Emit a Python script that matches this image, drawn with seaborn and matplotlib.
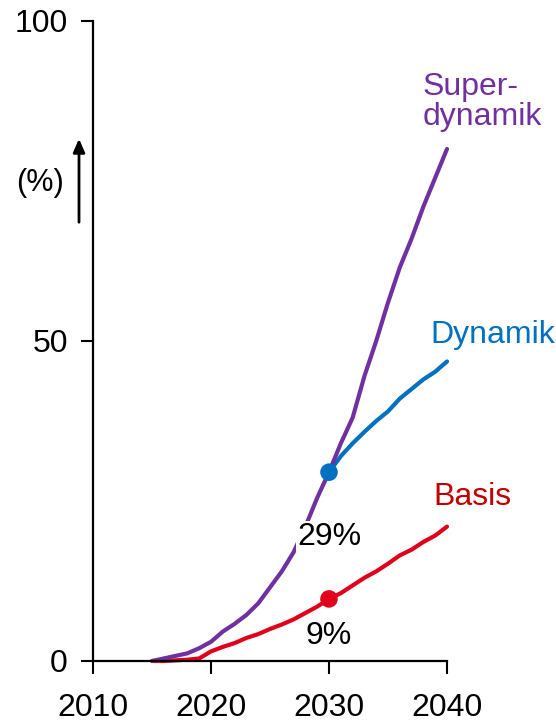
import numpy as np
import pandas as pd
import matplotlib
matplotlib.use("Agg")
import matplotlib.pyplot as plt
import seaborn as sns

# --- data (share in %) ---
years_super = list(range(2015, 2041))
super_dyn = [0.0, 0.4, 0.8, 1.2, 2.0, 3.0, 4.6, 5.8, 7.2, 9.0, 11.5, 14.0, 17.0,
             21.0, 25.5, 29.5, 34.0, 38.0, 44.5, 50.0, 56.0, 61.5, 66.0, 71.0,
             75.5, 80.0]

years_dyn = list(range(2030, 2041))
dynamik = [29.5, 32.0, 34.0, 35.8, 37.5, 39.0, 41.0, 42.5, 44.0, 45.2, 46.8]

years_basis = list(range(2015, 2041))
basis = [0.0, 0.0, 0.1, 0.2, 0.4, 1.5, 2.2, 2.8, 3.6, 4.2, 5.0, 5.7, 6.5, 7.5,
         8.5, 9.7, 10.6, 11.8, 13.0, 14.0, 15.2, 16.5, 17.4, 18.6, 19.6, 21.0]

marker_year = 2030
marker_vals = {"Dynamik": 29.5, "Basis": 9.7}

COLORS = {"Superdynamik": "#7030A0", "Dynamik": "#0070C0", "Basis": "#E0001B"}
TEXT_COLORS = {"Superdynamik": "#7030A0", "Dynamik": "#0070C0", "Basis": "#C00000"}

df = pd.concat([
    pd.DataFrame({"year": years_super, "value": super_dyn, "scenario": "Superdynamik"}),
    pd.DataFrame({"year": years_dyn, "value": dynamik, "scenario": "Dynamik"}),
    pd.DataFrame({"year": years_basis, "value": basis, "scenario": "Basis"}),
])

sns.set_style("white")
plt.rcParams["font.family"] = ["Liberation Sans", "DejaVu Sans"]
plt.rcParams["text.color"] = "black"

fig = plt.figure(figsize=(5.56, 7.23), dpi=100)
ax = fig.add_axes([93 / 556, 62 / 723, 354 / 556, 640 / 723])

sns.lineplot(data=df, x="year", y="value", hue="scenario", palette=COLORS,
             hue_order=["Basis", "Dynamik", "Superdynamik"],
             linewidth=3.0, legend=False, ax=ax, clip_on=False)

dots = pd.DataFrame({"year": [marker_year] * 2,
                     "value": [marker_vals["Dynamik"], marker_vals["Basis"]],
                     "scenario": ["Dynamik", "Basis"]})
sns.scatterplot(data=dots, x="year", y="value", hue="scenario", palette=COLORS,
                s=160, edgecolor="none", legend=False, ax=ax, zorder=5, clip_on=False)

ax.set_xlim(2010, 2040)
ax.set_ylim(0, 100)
ax.set_xticks([2010, 2020, 2030, 2040])
ax.set_yticks([0, 50, 100])
ax.set_xlabel("")
ax.set_ylabel("")
for side in ["top", "right"]:
    ax.spines[side].set_visible(False)
for side in ["left", "bottom"]:
    ax.spines[side].set_linewidth(1.6)
    ax.spines[side].set_color("black")
ax.tick_params(axis="both", which="both", direction="out", length=9, width=1.5,
               labelsize=23, colors="black", bottom=True, left=True)
ax.tick_params(axis="y", pad=9)
ax.tick_params(axis="x", pad=14)
ax.grid(False)

# value labels at 2030
ax.text(marker_year, 19.4, "29%", fontsize=23, ha="center", va="center",
        bbox=dict(facecolor="white", edgecolor="none", pad=1), zorder=4)
ax.text(marker_year, 3.9, "9%", fontsize=23, ha="center", va="center", zorder=4)

# series labels
ax.text(2037.95, 82.6, "Super-\ndynamik", fontsize=23, color=TEXT_COLORS["Superdynamik"],
        ha="left", va="bottom", linespacing=1.0)
ax.text(2038.55, 50.9, "Dynamik", fontsize=23, color=TEXT_COLORS["Dynamik"],
        ha="left", va="center")
ax.text(2038.85, 25.6, "Basis", fontsize=23, color=TEXT_COLORS["Basis"],
        ha="left", va="center")

# unit with arrow
fig.text(40 / 556, 1 - 183 / 723, "(%)", fontsize=22, ha="center", va="center")
fig.add_artist(matplotlib.patches.FancyArrowPatch(
    (79 / 556, 1 - 225 / 723), (79 / 556, 1 - 136 / 723),
    transform=fig.transFigure, arrowstyle="-|>,head_length=8,head_width=3.5",
    mutation_scale=1, linewidth=2, color="black"))

fig.savefig("out.png", dpi=100)
